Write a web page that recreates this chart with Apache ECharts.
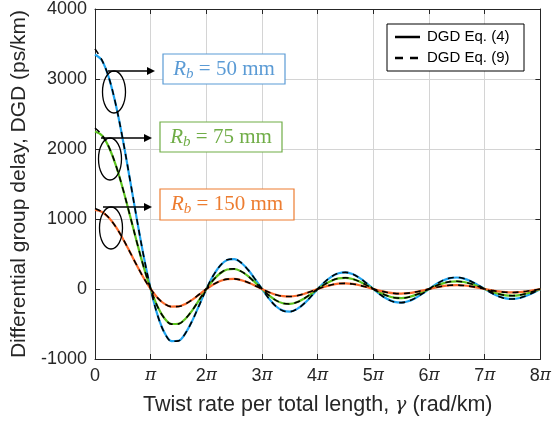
<!DOCTYPE html>
<html>
<head>
<meta charset="utf-8">
<script src="https://cdn.jsdelivr.net/npm/echarts@6/dist/echarts.min.js"></script>
<style>html,body{margin:0;padding:0;background:#fff;}#c{width:554px;height:425px;}</style>
</head>
<body>
<div id="c"></div>
<script>
// x sampling grid, in units of pi (0 .. 8pi, step pi/8)
const xPi = Array.from({length: 65}, (_, k) => k / 8);
const xTicks = [0, 1, 2, 3, 4, 5, 6, 7, 8];
const yTicks = [-1000, 0, 1000, 2000, 3000, 4000];
const legendNames = ['DGD Eq. (4)', 'DGD Eq. (9)'];

// DGD Eq. (4) (solid, coloured), ps/km
const eq4_50 = [3350,3265,3016,2627,2133,1576,1005,466,0,-377,-627,-745,-739,-631,-448,-226,0,192,335,415,427,375,274,142,0,-138,-246,-309,-323,-288,-213,-112,0,99,177,225,237,213,159,84,0,-80,-144,-183,-194,-175,-131,-69,0,67,121,155,164,149,112,59,0,-57,-104,-134,-142,-129,-97,-52,0];
const eq4_75 = [2250,2193,2026,1765,1432,1059,675,313,0,-253,-421,-500,-497,-424,-301,-152,0,129,225,279,286,252,184,95,0,-91,-162,-204,-213,-190,-140,-74,0,66,119,151,159,143,107,56,0,-53,-96,-123,-130,-118,-88,-47,0,45,81,104,110,100,75,40,0,-38,-70,-90,-95,-87,-65,-35,0];
const eq4_150 = [1130,1101,1017,886,719,532,339,157,0,-127,-212,-251,-249,-213,-151,-76,0,65,113,140,144,127,92,48,0,-46,-82,-103,-107,-96,-71,-37,0,33,60,76,80,72,54,28,0,-27,-48,-62,-65,-59,-44,-23,0,22,41,52,55,50,38,20,0,-19,-35,-45,-48,-44,-33,-17,0];
// DGD Eq. (9) (dashed, black)
const eq9_50 = [3430,3270,3018,2630,2136,1578,1006,466,0,-378,-629,-748,-741,-632,-449,-226,0,193,337,418,428,375,273,141,0,-139,-248,-311,-324,-288,-212,-111,0,100,179,227,238,213,158,83,0,-81,-146,-185,-195,-175,-130,-68,0,68,123,157,165,149,111,58,0,-58,-106,-136,-143,-129,-96,-51,0];
const eq9_75 = [2300,2200,2028,1767,1434,1060,676,313,0,-254,-422,-502,-498,-424,-301,-151,0,130,226,281,287,252,183,94,0,-92,-163,-206,-214,-190,-139,-73,0,67,120,152,160,143,106,55,0,-54,-97,-124,-131,-118,-87,-46,0,46,82,105,111,100,74,39,0,-39,-71,-91,-96,-87,-64,-34,0];
const eq9_150 = [1150,1103,1018,887,720,532,339,157,0,-127,-213,-252,-250,-213,-151,-75,0,66,114,141,145,127,92,47,0,-47,-83,-104,-108,-96,-70,-36,0,34,61,77,81,72,53,27,0,-28,-49,-63,-66,-59,-43,-22,0,23,42,53,56,50,37,19,0,-20,-36,-46,-49,-44,-32,-16,0];

const colors = {b50: '#1fa3ef', b75: '#5cc41e', b150: '#fb6a2c'};
const pair = arr => arr.map((v, i) => [xPi[i], v]);

const chart = echarts.init(document.getElementById('c'), null, {renderer: 'canvas'});
const sans = 'Liberation Sans, Arial, sans-serif';
const serif = 'DejaVu Serif, Liberation Serif, serif';
const piRich = {
  n: {fontFamily: sans, fontSize: 18, color: '#262626'},
  p: {fontFamily: serif, fontStyle: 'italic', fontSize: 17, color: '#262626'}
};
function solid(name, data, color) {
  return {name, type: 'line', data: pair(data), smooth: 0.35, symbol: 'none',
    lineStyle: {color, width: 2.2}, itemStyle: {color}, z: 2, silent: true};
}
function dashed(name, data) {
  return {name, type: 'line', data: pair(data), smooth: 0.35, symbol: 'none',
    lineStyle: {color: '#000', width: 1.6, type: [6, 5]}, itemStyle: {color: '#000'}, z: 3, silent: true};
}
const gridRect = {left: 95, right: 12, top: 9, bottom: 66};

function rb(val, color) {
  return {
    text: '{r|R}{s|b}{t| = ' + val + ' mm}',
    rich: {
      r: {fontFamily: 'Liberation Serif, serif', fontStyle: 'italic', fontSize: 21, fill: color, color},
      s: {fontFamily: 'Liberation Serif, serif', fontStyle: 'italic', fontSize: 15, fill: color, color, padding: [10, 0, 0, 0]},
      t: {fontFamily: 'Liberation Serif, serif', fontSize: 21, fill: color, color}
    }
  };
}
function arrow(x1, x2, y) {
  return [
    {type: 'line', shape: {x1, y1: y, x2: x2 - 7, y2: y}, style: {stroke: '#000', lineWidth: 1.3}, z: 10},
    {type: 'polygon', shape: {points: [[x2, y], [x2 - 8, y - 4], [x2 - 8, y + 4]]}, style: {fill: '#000'}, z: 10}
  ];
}
function ellipse(cx, cy, rx, ry) {
  return {type: 'ellipse', shape: {cx, cy, rx, ry}, style: {fill: 'none', stroke: '#000', lineWidth: 1.3}, z: 10};
}
function box(x, y, w, h, color, val) {
  return [
    {type: 'rect', shape: {x, y, width: w, height: h}, style: {fill: '#fff', stroke: color, lineWidth: 1.2}, z: 10},
    {type: 'text', x: x + w / 2, y: y + h / 2, style: Object.assign({align: 'center', verticalAlign: 'middle'}, rb(val, color)), z: 11}
  ];
}
function legendBox() {
  const x = 387, y = 24, w = 137, h = 47;
  return [
    {type: 'rect', shape: {x, y, width: w, height: h}, style: {fill: '#fff', stroke: '#000', lineWidth: 1}, z: 20},
    {type: 'line', shape: {x1: 395, y1: 37, x2: 420, y2: 37}, style: {stroke: '#000', lineWidth: 2.5}, z: 21},
    {type: 'line', shape: {x1: 395, y1: 58, x2: 420, y2: 58}, style: {stroke: '#000', lineWidth: 2.5, lineDash: [8, 7]}, z: 21},
    {type: 'text', x: 427, y: 37, style: {text: legendNames[0], font: '15px Liberation Sans', fill: '#000', verticalAlign: 'middle'}, z: 21},
    {type: 'text', x: 427, y: 58, style: {text: legendNames[1], font: '15px Liberation Sans', fill: '#000', verticalAlign: 'middle'}, z: 21}
  ];
}

const graphics = [].concat(
  ellipse(114, 92, 11.5, 21), arrow(108, 155, 71), box(163, 54, 122, 30, '#5b9bd5', '50'),
  ellipse(110, 159, 11.5, 21), arrow(101, 152, 138), box(160, 122, 122, 30, '#70ad47', '75'),
  ellipse(111, 228, 11.5, 21), arrow(103, 152, 207), box(160, 189, 134, 31, '#ed7d31', '150'),
  legendBox()
);

const axisLineStyle = {show: true, onZero: false, lineStyle: {color: '#262626', width: 1}};
const tickStyle = {show: true, inside: true, length: 5, lineStyle: {color: '#262626'}};
const gridLine = {show: true, lineStyle: {color: '#d4d4d4', width: 1, type: 'solid'}};

chart.setOption({
  animation: false,
  backgroundColor: '#fff',
  grid: gridRect,
  xAxis: [{
    type: 'value', min: xTicks[0], max: xTicks[xTicks.length - 1], interval: 1,
    name: '{a|Twist rate per total length, }{g|γ}{a| (rad/km)}',
    nameLocation: 'middle', nameGap: 35,
    nameTextStyle: {rich: {
      a: {fontFamily: sans, fontSize: 21.5, color: '#262626'},
      g: {fontFamily: serif, fontStyle: 'italic', fontSize: 19, color: '#262626'}
    }},
    axisLine: axisLineStyle,
    axisTick: tickStyle,
    axisLabel: {margin: 8, rich: piRich,
      formatter: v => v === 0 ? '{n|0}' : (v === 1 ? '{p|π}' : '{n|' + v + '}{p|π}')},
    splitLine: gridLine
  }, {
    type: 'value', min: xTicks[0], max: xTicks[xTicks.length - 1], interval: 1, position: 'top',
    axisLine: axisLineStyle, axisTick: tickStyle,
    axisLabel: {show: false}, splitLine: {show: false}
  }],
  yAxis: [{
    type: 'value', min: yTicks[0], max: yTicks[yTicks.length - 1], interval: 1000,
    name: 'Differential group delay, DGD (ps/km)',
    nameLocation: 'middle', nameGap: 61,
    nameTextStyle: {fontFamily: sans, fontSize: 21, color: '#262626'},
    axisLine: axisLineStyle,
    axisTick: tickStyle,
    axisLabel: {margin: 8, fontFamily: sans, fontSize: 18, color: '#262626', formatter: v => String(v)},
    splitLine: gridLine
  }, {
    type: 'value', min: yTicks[0], max: yTicks[yTicks.length - 1], interval: 1000, position: 'right',
    axisLine: axisLineStyle, axisTick: tickStyle,
    axisLabel: {show: false}, splitLine: {show: false}
  }],
  series: [
    solid('Rb50', eq4_50, colors.b50),
    solid('Rb75', eq4_75, colors.b75),
    solid('Rb150', eq4_150, colors.b150),
    dashed('Rb50d', eq9_50),
    dashed('Rb75d', eq9_75),
    dashed('Rb150d', eq9_150)
  ],
  graphic: graphics
});
</script>
</body>
</html>
